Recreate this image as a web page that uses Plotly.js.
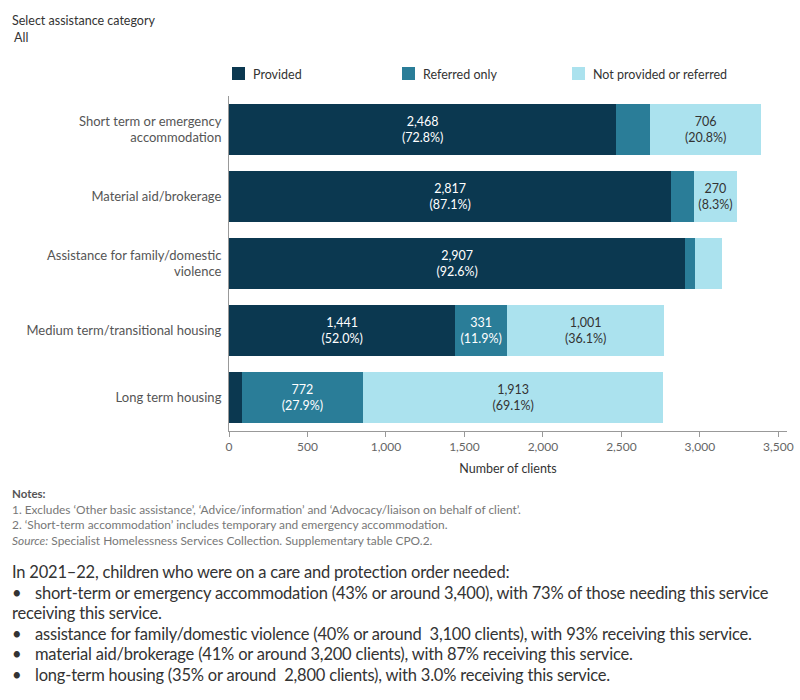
<!DOCTYPE html>
<html>
<head>
<meta charset="utf-8">
<script src="https://cdn.plot.ly/plotly-3.0.1.min.js"></script>
<style>
  html, body { margin:0; padding:0; background:#fff; width:800px; height:700px; overflow:hidden; font-family: Lato, "Open Sans", sans-serif; }
  #hdr1 { position:absolute; left:12px; top:13px; font-size:12.5px; color:#333; }
  #hdr2 { position:absolute; left:14px; top:30px; font-size:12.5px; color:#333; }
  #chart { position:absolute; left:0; top:0; width:800px; height:480px; }
  #notes { position:absolute; left:12px; top:486px; font-size:11.9px; color:#777; line-height:15.5px; }
  #notes .h { color:#555; font-weight:bold; font-size:11.5px; }
  #summary { position:absolute; left:12px; top:562px; font-size:16.5px; color:#333; line-height:20.6px; width:785px; letter-spacing:-0.2px; white-space:nowrap; }
  #summary .b { position:relative; padding-left:23px; }
  #summary .b:before { content:"\2022"; position:absolute; left:0px; }
</style>
</head>
<body>
<div id="chart"></div>
<div id="hdr1">Select assistance category</div>
<div id="hdr2">All</div>
<div id="notes">
  <div class="h">Notes:</div>
  <div>1. Excludes ‘Other basic assistance’, ‘Advice/information’ and ‘Advocacy/liaison on behalf of client’.</div>
  <div>2. ‘Short-term accommodation’ includes temporary and emergency accommodation.</div>
  <div><i>Source:</i> Specialist Homelessness Services Collection. Supplementary table CPO.2.</div>
</div>
<div id="summary">
  <div>In 2021–22, children who were on a care and protection order needed:</div>
  <div class="b">short-term or emergency accommodation (43% or around 3,400), with 73% of those needing this service</div>
  <div>receiving this service.</div>
  <div class="b">assistance for family/domestic violence (40% or around&nbsp; 3,100 clients), with 93% receiving this service.</div>
  <div class="b">material aid/brokerage (41% or around 3,200 clients), with 87% receiving this service.</div>
  <div class="b">long-term housing (35% or around&nbsp; 2,800 clients), with 3.0% receiving this service.</div>
</div>
<script>
const categories = [
  "Short term or emergency<br>accommodation",
  "Material aid/brokerage",
  "Assistance for family/domestic<br>violence",
  "Medium term/transitional housing",
  "Long term housing"
];
const seriesNames    = ["Provided", "Referred only", "Not provided or referred"];
const seriesColors   = ["#0b3850", "#2a7d98", "#abe2ee"];
const provided       = [2468, 2817, 2907, 1441, 82];
const referredOnly   = [216, 147, 64, 331, 772];
const notProvided    = [706, 270, 168, 1001, 1913];
const providedPct    = ["72.8%", "87.1%", "92.6%", "52.0%", "3.0%"];
const referredPct    = ["6.4%", "4.5%", "2.0%", "11.9%", "27.9%"];
const notProvidedPct = ["20.8%", "8.3%", "5.4%", "36.1%", "69.1%"];
const providedShow    = [true, true, true, true, false];
const referredShow    = [false, false, false, true, true];
const notProvidedShow = [true, true, false, true, true];
const xTicks = [0, 500, 1000, 1500, 2000, 2500, 3000, 3500];

const fmt = v => v.toLocaleString("en-US");
const lbl = (vals, pcts, show) => vals.map((v, i) => show[i] ? fmt(v) + "<br>(" + pcts[i] + ")" : "");

const common = {
  type: "bar", orientation: "h", y: categories,
  textposition: "inside", insidetextanchor: "middle",
  textangle: 0, hoverinfo: "x+name", showlegend: false
};

const traces = [
  Object.assign({}, common, {
    name: seriesNames[0], x: provided, text: lbl(provided, providedPct, providedShow),
    marker: { color: seriesColors[0], line: { width: 0 } },
    insidetextfont: { color: "#ffffff", size: 12.5, family: "Lato, sans-serif" }
  }),
  Object.assign({}, common, {
    name: seriesNames[1], x: referredOnly, text: lbl(referredOnly, referredPct, referredShow),
    marker: { color: seriesColors[1], line: { width: 0 } },
    insidetextfont: { color: "#ffffff", size: 12.5, family: "Lato, sans-serif" }
  }),
  Object.assign({}, common, {
    name: seriesNames[2], x: notProvided, text: lbl(notProvided, notProvidedPct, notProvidedShow),
    marker: { color: seriesColors[2], line: { width: 0 } },
    insidetextfont: { color: "#333333", size: 12.5, family: "Lato, sans-serif" }
  })
];

// Manual legend (positions in pixels converted to paper coords)
const W = 800, H = 480, mL = 229, mR = 13, mT = 96, mB = 49;
const pw = W - mL - mR, ph = H - mT - mB;
const px = x => (x - mL) / pw;
const py = y => 1 - (y - mT) / ph;
const legX = [232, 402, 572], legY = 74;
const shapes = [], annotations = [];
seriesNames.forEach((n, i) => {
  shapes.push({ type: "rect", xref: "paper", yref: "paper",
    x0: px(legX[i]), x1: px(legX[i] + 13), y0: py(legY - 7), y1: py(legY + 6),
    fillcolor: seriesColors[i], line: { width: 0 } });
  annotations.push({ xref: "paper", yref: "paper", x: px(legX[i] + 19), y: py(legY),
    xanchor: "left", yanchor: "middle", showarrow: false, text: n,
    font: { size: 12.5, color: "#333" } });
});

const layout = {
  width: W, height: H,
  margin: { l: mL, r: mR, t: mT, b: mB },
  barmode: "stack", bargap: 0.25,
  paper_bgcolor: "#ffffff", plot_bgcolor: "#ffffff",
  font: { family: "Lato, sans-serif", size: 12, color: "#666" },
  showlegend: false,
  shapes: shapes, annotations: annotations,
  xaxis: {
    range: [0, 3555], tickvals: xTicks, ticktext: xTicks.map(fmt),
    showgrid: false, zeroline: false,
    showline: true, linecolor: "#999", linewidth: 1,
    ticks: "outside", ticklen: 5, tickcolor: "#999",
    tickfont: { size: 12, color: "#666" },
    title: { text: "Number of clients", font: { size: 12.5, color: "#333" }, standoff: 10 },
    fixedrange: true
  },
  yaxis: {
    autorange: "reversed", showgrid: false, zeroline: false,
    showline: true, linecolor: "#999", linewidth: 1,
    ticks: "", tickfont: { size: 13, color: "#555" },
    ticklabelstandoff: 4,
    fixedrange: true
  }
};

Plotly.newPlot("chart", traces, layout, { displayModeBar: false, staticPlot: true });
</script>
</body>
</html>
